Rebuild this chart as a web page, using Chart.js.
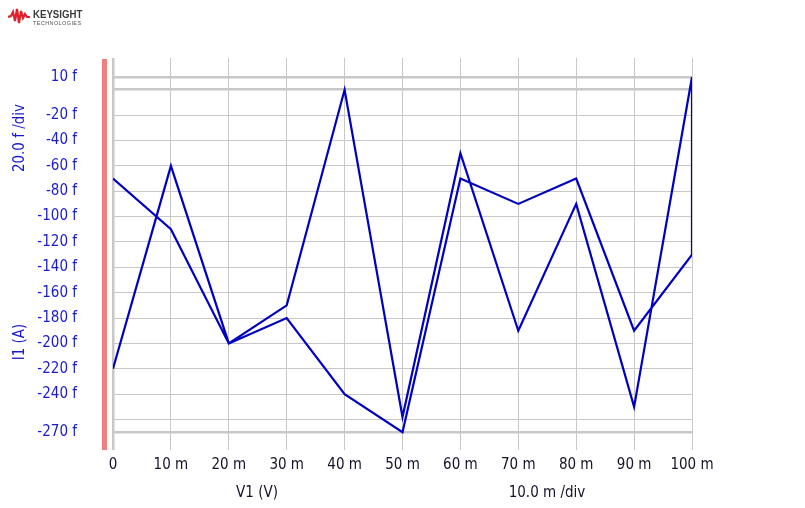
<!DOCTYPE html>
<html>
<head>
<meta charset="utf-8">
<script src="https://cdn.jsdelivr.net/npm/chart.js@4.4.1/dist/chart.umd.min.js"></script>
<style>
  body { margin: 0; background: #fff; }
  #wrap { position: relative; width: 805px; height: 508px; }
  #logo { position: absolute; left: 8px; top: 5px; font-family: "Liberation Sans", Arial, sans-serif; }
  #logo .name { position: absolute; left: 25px; top: 3px; font-size: 10.5px; font-weight: bold; color: #3a3a3a; transform: scaleX(0.92); transform-origin: left; }
  #logo .sub { position: absolute; left: 25px; top: 15px; font-size: 5.5px; color: #555; letter-spacing: 0.4px; white-space: nowrap; }
</style>
</head>
<body>
<div id="wrap">
  <canvas id="simChart" width="805" height="508"></canvas>
  <div id="logo">
    <svg width="22" height="20" style="position:absolute;left:0;top:1px">
      <polyline points="0,11 3,10 5,6 7,15 9,3 11,17 13,5 15,12 17,8 19,11 22,11" fill="none" stroke="#e0202a" stroke-width="2.2"/>
    </svg>
    <span class="name">KEYSIGHT</span>
    <span class="sub">TECHNOLOGIES</span>
  </div>
</div>
<script>
// --- data ---
const xValues = [0, 10, 20, 30, 40, 50, 60, 70, 80, 90, 100];        // V1 in mV
const sweepForward = [-70, -110, -200, -170, 0, -258, -50, -190, -90, -250, 10];   // I1 in fA
const sweepBack = [-220, -60, -200, -180, -240, -270, -70, -90, -70, -190, -130];  // I1 in fA
const yTicks = [10, 0, -20, -40, -60, -80, -100, -120, -140, -160, -180, -200, -220, -240, -260, -270];
const yHiddenLabels = [0, -260];
const yThick = [10, 0, -270];

// trace runs forward then back, so the jump at 100 m shows as a vertical line
const tracePoints = [];
xValues.forEach((x, i) => tracePoints.push({ x: x, y: sweepForward[i] }));
for (let i = xValues.length - 1; i >= 0; i--) tracePoints.push({ x: xValues[i], y: sweepBack[i] });

const FONT = "'DejaVu Sans', sans-serif";
// chart.js only checks style, so the stretch keyword rides in the weight slot
const TICK_FONT = { family: FONT, size: 15, weight: 'condensed' };

// red bar + axis captions
const extras = {
    id: 'extras',
    afterDraw(chart) {
        const ctx = chart.ctx;
        const area = chart.chartArea;
        ctx.save();
        ctx.fillStyle = '#f08080';
        ctx.fillRect(102, area.top + 1, 5, area.bottom - area.top - 1);

        ctx.font = 'condensed 15px ' + FONT;
        ctx.textAlign = 'center';
        ctx.textBaseline = 'middle';
        ctx.fillStyle = '#1a1ad0';
        [['20.0 f /div', 138], ['I1 (A)', 342]].forEach(([txt, y]) => {
            ctx.save();
            ctx.translate(20, y);
            ctx.rotate(-Math.PI / 2);
            ctx.fillText(txt, 0, 0);
            ctx.restore();
        });
        ctx.fillStyle = '#141428';
        ctx.fillText('V1 (V)', 257, 493);
        ctx.fillText('10.0 m /div', 547, 493);
        ctx.restore();
    }
};

const ctx = document.getElementById('simChart').getContext('2d');
new Chart(ctx, {
    type: 'scatter',
    data: {
        datasets: [{
            data: tracePoints,
            showLine: true,
            borderColor: '#0000c0',
            borderWidth: 2.2,
            pointRadius: 0,
            fill: false,
            tension: 0
        }]
    },
    options: {
        responsive: false,
        animation: false,
        devicePixelRatio: 1,
        layout: { padding: { top: 58, right: 113, left: 0, bottom: 0 } },
        plugins: { legend: { display: false }, tooltip: { enabled: false } },
        scales: {
            x: {
                type: 'linear',
                min: 0,
                max: 100,
                afterFit: s => { s.height = 58; },
                border: { display: false },
                grid: {
                    color: '#c8c8c8',
                    drawTicks: false,
                    lineWidth: c => (c.tick && c.tick.value === 0 ? 2.5 : 1)
                },
                ticks: {
                    stepSize: 10,
                    padding: 6,
                    color: '#141428',
                    font: TICK_FONT,
                    maxRotation: 0,
                    autoSkip: false,
                    callback: v => (v === 0 ? '0' : v + ' m')
                }
            },
            y: {
                type: 'linear',
                min: -284,
                max: 25,
                afterFit: s => { s.width = 113; },
                afterBuildTicks: s => { s.ticks = yTicks.map(v => ({ value: v })); },
                border: { display: false },
                grid: {
                    color: '#c8c8c8',
                    drawTicks: false,
                    lineWidth: c => (c.tick && yThick.includes(c.tick.value) ? 2.5 : 1)
                },
                ticks: {
                    padding: 36,
                    color: '#1a1ad0',
                    font: TICK_FONT,
                    autoSkip: false,
                    callback: v => (yHiddenLabels.includes(v) ? '' : v + ' f')
                }
            }
        }
    },
    plugins: [extras]
});
</script>
</body>
</html>
